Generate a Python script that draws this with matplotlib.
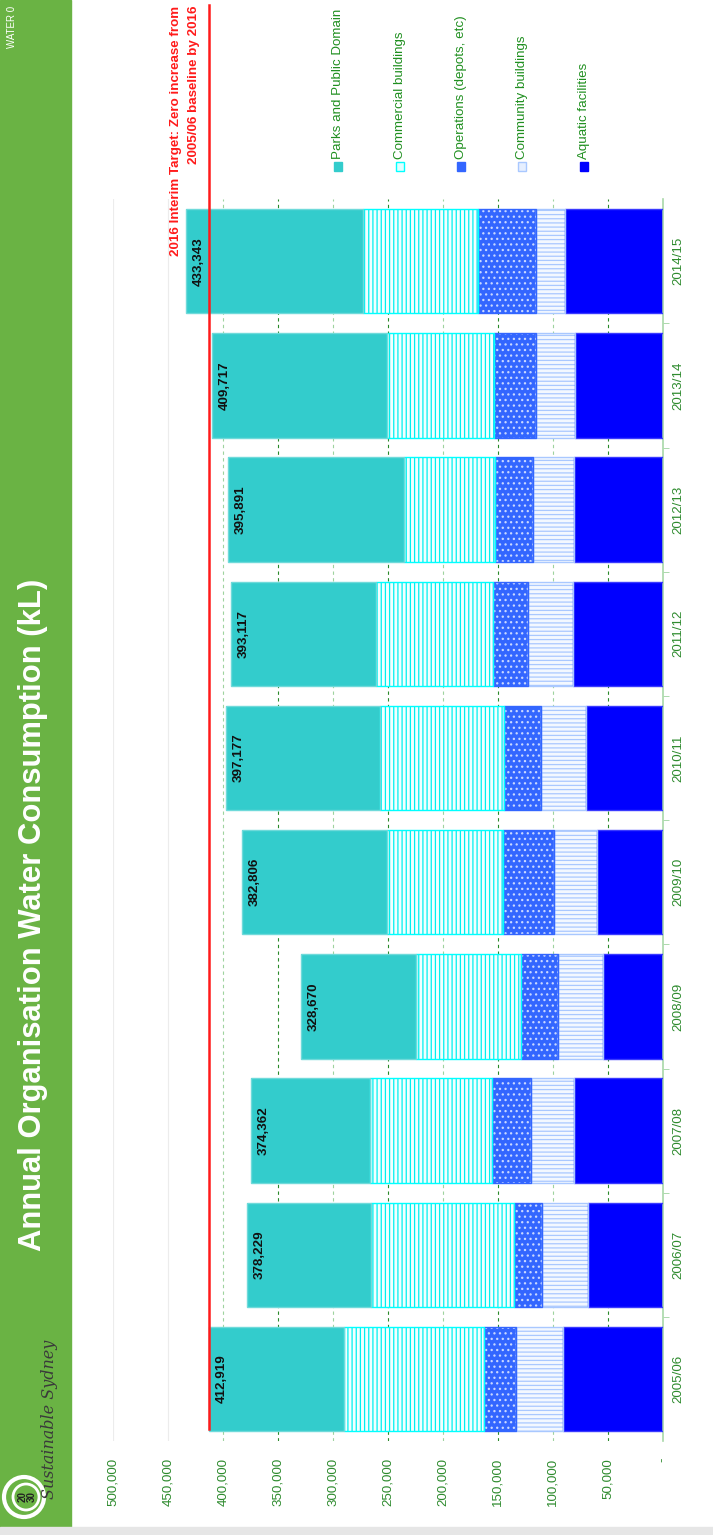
import numpy as np
import matplotlib
matplotlib.use('Agg')
import matplotlib.pyplot as plt
from matplotlib.patches import Rectangle, Circle

plt.rcParams['font.family'] = ['Liberation Sans', 'DejaVu Sans']
plt.rcParams['hatch.linewidth'] = 0.9

# data (kL)
years = ['2005/06', '2006/07', '2007/08', '2008/09', '2009/10',
         '2010/11', '2011/12', '2012/13', '2013/14', '2014/15']
aquatic = [90400, 67700, 80700, 54600, 59500, 70100, 81900, 80700, 79800, 88900]
community = [43100, 42400, 39400, 40400, 39100, 40900, 40400, 37000, 35700, 26600]
operations = [29100, 24900, 35500, 33900, 46400, 33400, 31800, 34900, 38000, 52800]
commercial = [127400, 130400, 110700, 95500, 105500, 112400, 106700, 82800, 97600, 104100]
parks = [122919, 112829, 108062, 104270, 132306, 140377, 132317, 160491, 158617, 160943]
totals = [412919, 378229, 374362, 328670, 382806, 397177, 393117, 395891, 409717, 433343]
target = 412919
value_ticks = [0, 50000, 100000, 150000, 200000, 250000, 300000, 350000, 400000, 450000, 500000]

W, H = 713, 1535
GREEN_TXT = '#2e8b2e'
FS = 9.6

fig = plt.figure(figsize=(W / 100, H / 100), dpi=100)
fig.patch.set_facecolor('white')

# side banner + bottom strip
fig.patches.append(Rectangle((0, 8 / H), 71 / W, 1 - 8 / H, transform=fig.transFigure,
                             color='#6ab344', zorder=0))
fig.patches.append(Rectangle((0, 0), 1, 8 / H, transform=fig.transFigure,
                             color='#e6e6e6', zorder=0))

ax = fig.add_axes([113.1 / W, 1 - 1441.1 / H, 549.6 / W, 1242 / H])

y = np.arange(len(years))
h = 0.84

series = [
    ('Aquatic facilities', aquatic, '#0000ff', None, None, '#3a3aff'),
    ('Community buildings', community, '#f3f8ff', '----', '#a9c8ff', '#a9c8ff'),
    ('Operations (depots, etc)', operations, '#3366ff', '...', '#c9d8ff', '#3366ff'),
    ('Commercial buildings', commercial, '#f2ffff', '||||', '#00f0f0', '#00ffff'),
    ('Parks and Public Domain', parks, '#33cccc', None, None, '#6fdada'),
]

left = np.zeros(len(years))
for name, vals, fc, hatch, hc, ec in series:
    vals = np.array(vals, dtype=float)
    ax.barh(y, vals, left=left, height=h, color=fc, edgecolor='none', zorder=2)
    if hatch:
        ax.barh(y, vals, left=left, height=h, color='none', edgecolor=hc,
                hatch=hatch, linewidth=0, zorder=3)
    ax.barh(y, vals, left=left, height=h, color='none', edgecolor=ec,
            linewidth=1.0, zorder=4)
    left += vals

# total labels
for yi, t in zip(y, totals):
    ax.text(t - 11500, yi, f'{t:,}', rotation=90, ha='center', va='center',
            fontsize=FS, fontweight='bold', color='#111111', zorder=6)

# target line (extends beyond the plot area)
ax.plot([target, target], [-0.4, 11.06], color='#ff1a1a', lw=1.8,
        clip_on=False, zorder=7)

ax.set_xlim(500000, 0)
ax.set_ylim(-0.5, 9.5)

# gridlines
for v in value_ticks[1:]:
    if v >= 450000:
        c, ls = '#ececec', '-'
    elif (v // 50000) % 2 == 1:
        c, ls = '#2a8a2a', (0, (3, 3))
    else:
        c, ls = '#9fd39f', (0, (3, 3))
    ax.axvline(v, color=c, lw=0.8, ls=ls, zorder=1)

ax.set_xticks(value_ticks)
ax.set_xticklabels(['-'] + [f'{v:,}' for v in value_ticks[1:]], rotation=90,
                   fontsize=FS, color=GREEN_TXT)
ax.tick_params(axis='x', length=0, pad=12)

ax.yaxis.tick_right()
ax.set_yticks(y)
ax.set_yticklabels(years, rotation=90, va='center', fontsize=FS, color=GREEN_TXT)
ax.set_yticks(y[:-1] + 0.5, minor=True)
ax.tick_params(axis='y', which='major', length=0, pad=7)
ax.tick_params(axis='y', which='minor', length=4, color='#9fd39f', right=True, left=False)

for s in ['top', 'left', 'bottom']:
    ax.spines[s].set_visible(False)
ax.spines['right'].set_color('#a8d8a8')
ax.spines['right'].set_linewidth(1.2)

# legend, drawn as rotated entries
leg_x = [338, 400, 461, 522, 584]
leg = [('Parks and Public Domain', '#33cccc', '#33cccc'),
       ('Commercial buildings', '#e0ffff', '#00ffff'),
       ('Operations (depots, etc)', '#3366ff', '#3366ff'),
       ('Community buildings', '#e6efff', '#a9c8ff'),
       ('Aquatic facilities', '#0000ff', '#0000ff')]
for lx, (name, fc, ec) in zip(leg_x, leg):
    fig.patches.append(Rectangle(((lx - 4) / W, 1 - 171 / H), 8 / W, 9 / H,
                                 transform=fig.transFigure, facecolor=fc,
                                 edgecolor=ec, lw=1))
    fig.text(lx / W, 1 - 159 / H, name, rotation=90, ha='center', va='bottom',
             fontsize=FS, color='#1f8f1f')

# target annotation, one text per line
for tx, line in [(176, '2016 Interim Target: Zero increase from'),
                 (194, '2005/06 baseline by 2016')]:
    fig.text(tx / W, 1 - 6 / H, line, rotation=90, ha='center', va='top',
             fontsize=FS, fontweight='bold', color='#ff1a1a')

# banner texts
fig.text(33 / W, 1 - 915 / H, 'Annual Organisation Water Consumption (kL)',
         rotation=90, ha='center', va='center', fontsize=22.3, fontweight='bold',
         color='white')
fig.text(12 / W, 1 - 48 / H, 'WATER 0', rotation=90, ha='center', va='bottom',
         fontsize=7, color='white')
fig.text(50 / W, 1 - 1419 / H, 'Sustainable Sydney', rotation=90, ha='center',
         va='center', fontsize=11.5, fontstyle='italic', family='DejaVu Serif',
         color='#3a3a3a')

# logo rings
cx, cy = 24 / 100, (H - 1497) / 100
fig.patches.append(Circle((cx, cy), 0.2, transform=fig.dpi_scale_trans,
                          fill=False, edgecolor='white', lw=3))
fig.patches.append(Circle((cx + 0.02, cy), 0.13, transform=fig.dpi_scale_trans,
                          fill=False, edgecolor='white', lw=2))
fig.text((cx * 100 + 3) / W, cy * 100 / H, '20\n30', rotation=90, ha='center',
         va='center', fontsize=7, fontweight='bold', color='#222222', linespacing=0.9)

fig.savefig('out.png', dpi=100)
